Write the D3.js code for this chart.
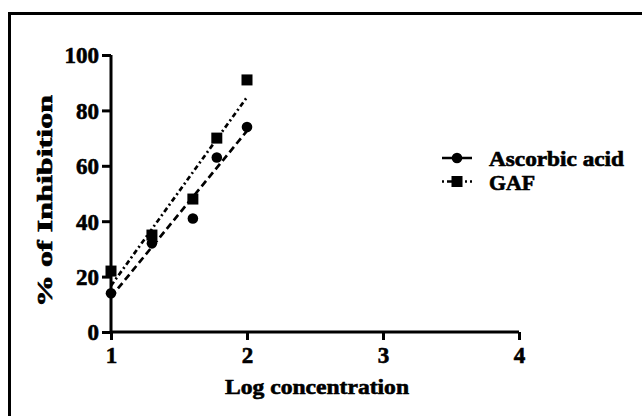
<!DOCTYPE html>
<html><head><meta charset="utf-8">
<script src="https://cdn.jsdelivr.net/npm/d3@7"></script>
<style>body{margin:0;background:#fff}svg{display:block}text{stroke:#000;stroke-width:0.6px;paint-order:stroke}</style>
</head><body><div id="c"></div>
<script>
const logConc = [1, 1.301, 1.602, 1.778, 2];
const ascorbic = [14, 32, 41, 63, 74];
const gaf = [22, 35, 48, 70, 91];
const seriesNames = ["Ascorbic acid", "GAF"];
const xTicks = [1, 2, 3, 4];
const yTicks = [0, 20, 40, 60, 80, 100];

const W = 642, H = 416;
const svg = d3.select("#c").append("svg").attr("width", W).attr("height", H);
const font = "'Liberation Serif','Times New Roman',serif";

// frame (top and left edges)
svg.append("path").attr("d", `M9.5,${H} V13.5 H${W}`).attr("fill", "none").attr("stroke", "#000").attr("stroke-width", 3);

const x = d3.scaleLinear().domain([1, 4]).range([111, 519]);
const y = d3.scaleLinear().domain([0, 100]).range([332, 55]);

const xAxis = svg.append("g").attr("transform", "translate(0,332)")
  .call(d3.axisBottom(x).tickValues(xTicks).tickFormat(d3.format("d")).tickSize(8).tickPadding(6));
const yAxis = svg.append("g").attr("transform", "translate(111,0)")
  .call(d3.axisLeft(y).tickValues(yTicks).tickSize(9).tickPadding(3));
[xAxis, yAxis].forEach(g => {
  g.select(".domain").attr("stroke-width", 3).attr("d", g === xAxis ? "M111,0H519" : "M0,332V55");
  g.selectAll(".tick line").attr("stroke-width", 3);
  g.selectAll("text").attr("font-family", font).attr("font-weight", "bold").attr("font-size", 23).attr("fill", "#000");
});
xAxis.selectAll("text").attr("dy", "0.72em");
yAxis.selectAll("text").attr("dy", "0.34em");

svg.append("text").attr("x", 317).attr("y", 394).attr("text-anchor", "middle")
  .attr("font-family", font).attr("font-weight", "bold").attr("font-size", 21)
  .attr("textLength", 184).attr("lengthAdjust", "spacingAndGlyphs").text("Log concentration");
svg.append("text").attr("transform", "translate(52,201) rotate(-90)").attr("text-anchor", "middle")
  .attr("font-family", font).attr("font-weight", "bold").attr("font-size", 21)
  .attr("textLength", 212).attr("lengthAdjust", "spacingAndGlyphs").text("% of Inhibition");

function fit(xs, ys) {
  const mx = d3.mean(xs), my = d3.mean(ys);
  const sxy = d3.sum(xs, (v, i) => (v - mx) * (ys[i] - my));
  const sxx = d3.sum(xs, v => (v - mx) ** 2);
  const b = sxy / sxx;
  return v => my + b * (v - mx);
}
const dashes = ["7,4", "5,3,2,3"];
const data = [ascorbic, gaf];
data.forEach((ys, k) => {
  const f = fit(logConc, ys);
  const ext = d3.extent(logConc);
  svg.append("path").attr("d", d3.line()(ext.map(v => [x(v), y(f(v))])))
    .attr("fill", "none").attr("stroke", "#000").attr("stroke-width", 2.7).attr("stroke-dasharray", dashes[k]);
});
function marker(g, k, cx, cy) {
  if (k === 0) g.append("circle").attr("cx", cx).attr("cy", cy).attr("r", 5.3).attr("fill", "#000");
  else g.append("rect").attr("x", cx - 5.5).attr("y", cy - 5.5).attr("width", 11).attr("height", 11).attr("fill", "#000");
}
data.forEach((ys, k) => {
  const g = svg.append("g");
  logConc.forEach((v, i) => marker(g, k, x(v), y(ys[i])));
});

// legend
seriesNames.forEach((name, k) => {
  const cy = 158 + k * 23.5;
  const g = svg.append("g");
  g.append("line").attr("x1", 442).attr("x2", 472).attr("y1", cy).attr("y2", cy)
    .attr("stroke", "#000").attr("stroke-width", 2.5).attr("stroke-dasharray", k === 0 ? "12,3,2,3" : "2,3,10,3,2,3");
  marker(g, k, 457, cy);
  g.append("text").attr("x", 489).attr("y", cy + 8).attr("font-family", font).attr("font-weight", "bold")
    .attr("font-size", 20).attr("textLength", k === 0 ? 135 : 46).attr("lengthAdjust", "spacingAndGlyphs").text(name);
});
</script></body></html>
